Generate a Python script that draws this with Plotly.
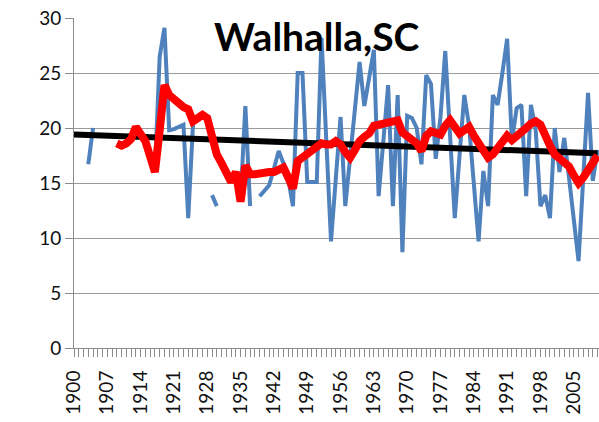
import plotly.graph_objects as go

# Years on the category axis
years = list(range(1900, 2011))

# Annual values (blue), None where no record exists
annual = [
    None, None, None, 16.7, 20.0, None, None, None, None, None,   # 1900-1909
    None, None, None, None, None, None, None, 16.0, 26.5, 29.1,   # 1910-1919
    19.8, 19.9, 20.1, 20.3, 11.8, 20.3, None, None, None, 13.9,   # 1920-1929
    12.9, None, None, None, None, 13.5, 22.0, 12.9, None, 13.8,   # 1930-1939
    14.3, 14.8, 16.3, 17.9, 16.8, 15.4, 12.9, 25.0, 25.0, 15.1,   # 1940-1949
    15.1, 15.1, 28.2, 19.0, 9.7, 15.4, 21.0, 12.9, 17.2, 21.5,    # 1950-1959
    26.0, 22.0, 24.5, 27.1, 13.8, 19.0, 23.9, 12.9, 23.0, 8.7,    # 1960-1969
    21.1, 20.9, 20.0, 16.7, 24.8, 24.0, 17.2, 21.0, 27.0, 19.4,   # 1970-1979
    11.8, 17.5, 23.0, 20.2, 15.0, 9.7, 16.1, 12.9, 23.0, 22.1,    # 1980-1989
    25.0, 28.1, 18.8, 21.8, 22.1, 13.8, 22.1, 19.8, 12.9, 13.9,   # 1990-1999
    11.8, 20.0, 16.0, 19.1, 15.5, 11.7, 7.9, 15.5, 23.2, 15.2,    # 2000-2009
    18.0,                                                        # 2010
]

# Smoothed values (red), starting in 1909
smoothed = [None] * 9 + [
    18.6,                                                        # 1909
    18.4, 18.6, 19.0, 20.1, 19.4, 18.8, 17.4, 16.0, 19.8, 23.9,   # 1910-1919
    23.0, 22.6, 22.2, 21.9, 21.7, 20.6, 20.9, 21.2, 20.9, 19.1,   # 1920-1929
    17.6, 16.8, 16.0, 15.1, 16.0, 13.3, 16.6, 15.8, 15.8, 15.9,   # 1930-1939
    15.9, 16.0, 16.0, 16.2, 16.4, 15.5, 14.5, 17.0, 17.3, 17.6,   # 1940-1949
    17.9, 18.2, 18.6, 18.5, 18.5, 18.8, 18.5, 17.8, 17.3, 18.0,   # 1950-1959
    18.8, 19.2, 19.5, 20.2, 20.3, 20.3, 20.5, 20.6, 20.7, 19.6,   # 1960-1969
    19.3, 19.1, 18.6, 17.9, 19.3, 19.7, 19.5, 19.4, 20.2, 20.7,   # 1970-1979
    20.1, 19.5, 19.8, 20.1, 19.3, 18.6, 18.0, 17.3, 17.6, 18.2,   # 1980-1989
    18.8, 19.3, 18.9, 19.2, 19.7, 20.0, 20.4, 20.6, 20.3, 19.1,   # 1990-1999
    18.4, 17.6, 17.3, 16.9, 16.5, 15.7, 15.0, 15.5, 16.1, 16.9,   # 2000-2009
    17.5,                                                        # 2010
]

# Linear trend end points
trend_years = [1900, 2010]
trend_values = [19.4, 17.7]

title_text = "Walhalla,SC"
label_years = list(range(1900, 2011, 7))

axis_grey = "#8c8c8c"
font_family = "Lato, 'Open Sans', sans-serif"

fig = go.Figure()
fig.add_trace(go.Scatter(x=years, y=annual, mode="lines", connectgaps=False,
                         line=dict(color="#4F81BD", width=4)))
fig.add_trace(go.Scatter(x=trend_years, y=trend_values, mode="lines",
                         line=dict(color="#000000", width=6)))
fig.add_trace(go.Scatter(x=years, y=smoothed, mode="lines", connectgaps=False,
                         line=dict(color="#FF0000", width=8)))

fig.update_layout(
    width=599, height=422,
    margin=dict(l=74, r=0, t=18, b=74),
    showlegend=False,
    paper_bgcolor="white", plot_bgcolor="white",
    font=dict(family=font_family, color="#111111", size=19),
    xaxis=dict(
        range=[1900, 2010.3],
        tickmode="array", tickvals=label_years, ticktext=[str(y) for y in label_years],
        tickangle=-90, ticks="outside", ticklen=8, tickwidth=1, tickcolor=axis_grey,
        ticklabelstandoff=6,
        showline=True, linecolor=axis_grey, linewidth=1,
        showgrid=False, zeroline=False,
        tickfont=dict(size=19),
        minor=dict(dtick=1, tick0=1900, ticks="outside", ticklen=8,
                   tickwidth=1, tickcolor=axis_grey, showgrid=False),
    ),
    yaxis=dict(
        range=[0, 30], tickmode="linear", tick0=0, dtick=5,
        showgrid=True, gridcolor="#9a9a9a", gridwidth=1,
        showline=True, linecolor=axis_grey, linewidth=1,
        ticks="outside", ticklen=8, tickwidth=1, tickcolor=axis_grey,
        zeroline=False, tickfont=dict(size=19),
    ),
    annotations=[dict(
        text=title_text, xref="paper", yref="paper",
        x=0.4638, y=0.945, xanchor="center", yanchor="middle",
        showarrow=False,
        font=dict(family=font_family, size=39, color="#000000", weight="bold"),
    )],
)

fig.write_html("out.html")
